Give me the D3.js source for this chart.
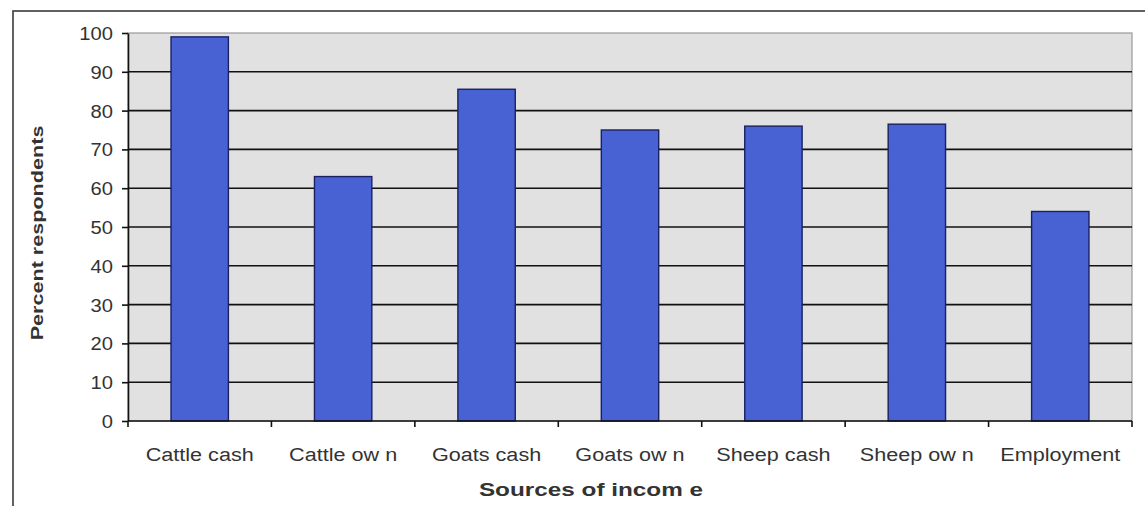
<!DOCTYPE html>
<html>
<head>
<meta charset="utf-8">
<script src="https://cdn.jsdelivr.net/npm/d3@7"></script>
<style>
  html, body { margin: 0; padding: 0; background: #fff; }
  svg { display: block; }
  text { font-family: Arial, "Liberation Sans", sans-serif; fill: #333; }
</style>
</head>
<body>
<svg id="chart" width="1145" height="506"></svg>
<script>
// Sources of income and share of respondents naming each
const categories = ["Cattle cash", "Cattle ow n", "Goats cash", "Goats ow n", "Sheep cash", "Sheep ow n", "Employment"];
const percents = [99, 63, 85.5, 75, 76, 76.5, 54];
const yTicks = [0, 10, 20, 30, 40, 50, 60, 70, 80, 90, 100];
const yTitle = "Percent respondents";
const xTitle = "Sources of incom e";

const svg = d3.select("#chart");
const plot = { left: 128, right: 1132, top: 33, bottom: 421 };

// stretch a text element horizontally along its own run
function widen(sel, factor) {
  sel.each(function () {
    const w = this.getComputedTextLength();
    d3.select(this).attr("textLength", w * factor).attr("lengthAdjust", "spacingAndGlyphs");
  });
}

// outer chart frame
svg.append("rect")
  .attr("x", 13).attr("y", 11)
  .attr("width", 1150).attr("height", 520)
  .attr("fill", "#fff").attr("stroke", "#3a3a3a").attr("stroke-width", 1.6);

const x = d3.scaleBand()
  .domain(categories)
  .range([plot.left, plot.right])
  .paddingInner(0.6)
  .paddingOuter(0.3);

const y = d3.scaleLinear()
  .domain([0, 100])
  .range([plot.bottom, plot.top]);

// plot background
svg.append("rect")
  .attr("x", plot.left).attr("y", plot.top)
  .attr("width", plot.right - plot.left).attr("height", plot.bottom - plot.top)
  .attr("fill", "#e1e1e1").attr("stroke", "#9a9a9a").attr("stroke-width", 1.2);

// horizontal gridlines
svg.append("g")
  .selectAll("line")
  .data(yTicks.filter(d => d > 0 && d < 100))
  .join("line")
  .attr("x1", plot.left).attr("x2", plot.right)
  .attr("y1", d => y(d)).attr("y2", d => y(d))
  .attr("stroke", "#111").attr("stroke-width", 1.6);

// bars
svg.append("g")
  .selectAll("rect")
  .data(categories)
  .join("rect")
  .attr("x", d => x(d))
  .attr("width", x.bandwidth())
  .attr("y", (d, i) => y(percents[i]))
  .attr("height", (d, i) => y(0) - y(percents[i]))
  .attr("fill", "#4862d4")
  .attr("stroke", "#1c2060")
  .attr("stroke-width", 1.4);

// y axis
const yAxis = svg.append("g")
  .attr("transform", `translate(${plot.left},0)`)
  .call(d3.axisLeft(y).tickValues(yTicks).tickSize(6).tickPadding(9).tickSizeOuter(0));
yAxis.select(".domain").attr("stroke", "#111").attr("stroke-width", 1.6);
yAxis.selectAll(".tick line").attr("stroke", "#111").attr("stroke-width", 1.6);
yAxis.selectAll(".tick text")
  .attr("font-size", 18).attr("fill", "#333").attr("dy", "0.36em")
  .call(widen, 1.12);

// x axis: ticks on category boundaries
const step = x.step();
const bounds = d3.range(categories.length + 1).map(i => plot.left + i * step);
svg.append("line")
  .attr("x1", plot.left).attr("x2", plot.right)
  .attr("y1", plot.bottom).attr("y2", plot.bottom)
  .attr("stroke", "#111").attr("stroke-width", 1.6);
svg.append("g")
  .selectAll("line")
  .data(bounds)
  .join("line")
  .attr("x1", d => d).attr("x2", d => d)
  .attr("y1", plot.bottom).attr("y2", plot.bottom + 6)
  .attr("stroke", "#111").attr("stroke-width", 1.6);

svg.append("g")
  .selectAll("text")
  .data(categories)
  .join("text")
  .attr("x", d => x(d) + x.bandwidth() / 2)
  .attr("y", 461)
  .attr("text-anchor", "middle")
  .attr("font-size", 18)
  .text(d => d)
  .call(widen, 1.2);

// axis titles
svg.append("text")
  .attr("transform", "translate(43,233) rotate(-90)")
  .attr("text-anchor", "middle")
  .attr("font-size", 17)
  .attr("font-weight", "bold")
  .text(yTitle)
  .call(widen, 1.27);

svg.append("text")
  .attr("x", 591).attr("y", 496)
  .attr("text-anchor", "middle")
  .attr("font-size", 18)
  .attr("font-weight", "bold")
  .text(xTitle)
  .call(widen, 1.35);
</script>
</body>
</html>
